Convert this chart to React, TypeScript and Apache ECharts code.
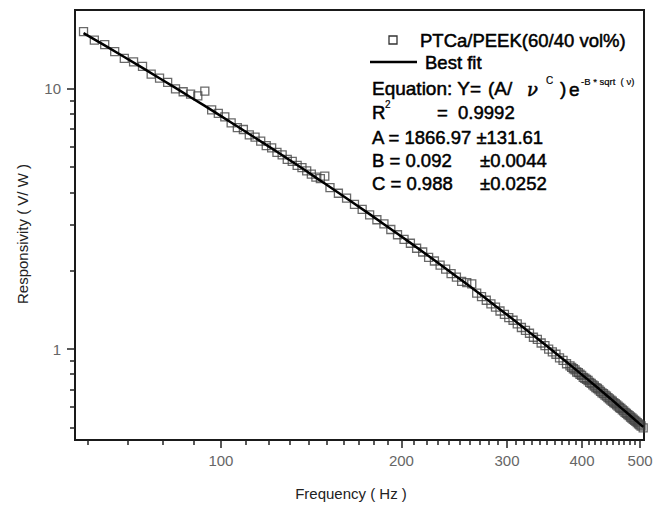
import React, { useEffect, useRef } from "react";
import * as echarts from "echarts";

// Measured data (frequency in Hz, responsivity in V/W)
const FREQ = [
  59, 61.5, 64, 66.5, 69, 71.5, 74, 76.5, 79, 81.5, 84, 86.5, 89, 91.5, 94, 96.5, 99,
  101.5, 104, 106.5, 109, 111.5, 114, 116.5, 119, 121.5, 124, 126.5, 129, 131.5, 134,
  136.5, 139, 141.5, 144, 146.5, 149, 152, 157, 162, 167, 172, 177, 182, 187, 192, 197,
  202, 207, 212, 217, 222, 227, 232, 237, 242, 247, 252, 257, 262, 267, 272, 277, 282,
  287, 292, 297, 302, 307, 312, 317, 322, 327, 332, 337, 342, 347, 352, 357, 362, 367,
  372, 377, 382, 384.5, 387, 389.5, 392, 394.5, 397, 399.5, 402, 404.5, 407, 409.5, 412,
  414.5, 417, 419.5, 422, 424.5, 427, 429.5, 432, 434.5, 437, 439.5, 442, 444.5, 447,
  449.5, 452, 454.5, 457, 459.5, 462, 464.5, 467, 469.5, 472, 474.5, 477, 479.5, 482,
  484.5, 487, 489.5, 492, 494.5, 497, 499.5, 502, 506,
];
const RESP = [
  16.6, 15.4, 14.8, 13.9, 13.1, 12.7, 12.2, 11.4, 11.0, 10.6, 10.0, 9.75, 9.55, 9.4, 9.8, 8.3, 8.05,
  7.8, 7.4, 7.1, 6.98, 6.65, 6.52, 6.3, 6.05, 5.93, 5.7, 5.58, 5.36, 5.26, 5.08,
  4.98, 4.84, 4.7, 4.58, 4.52, 4.62, 4.17, 3.97, 3.8, 3.6, 3.44, 3.28, 3.14, 3.03, 2.88, 2.75,
  2.64, 2.55, 2.44, 2.36, 2.25, 2.18, 2.1, 2.03, 1.95, 1.89, 1.82, 1.8, 1.78, 1.64, 1.59, 1.54, 1.49,
  1.45, 1.4, 1.36, 1.32, 1.29, 1.25, 1.21, 1.18, 1.15, 1.11, 1.09, 1.055, 1.03, 1.0, 0.975, 0.955, 0.925,
  0.905, 0.878, 0.862, 0.85, 0.84, 0.832, 0.816, 0.812, 0.8, 0.792, 0.778, 0.772, 0.764, 0.757, 0.745,
  0.738, 0.728, 0.721, 0.71, 0.705, 0.697, 0.688, 0.678, 0.674, 0.665, 0.659, 0.65, 0.643, 0.636,
  0.63, 0.622, 0.617, 0.61, 0.603, 0.596, 0.591, 0.584, 0.578, 0.571, 0.566, 0.56, 0.555, 0.548,
  0.543, 0.537, 0.532, 0.527, 0.521, 0.516, 0.511, 0.506, 0.498,
];

// Best-fit curve
const FIT_FREQ = [
  59, 64, 69, 74, 79, 84, 89, 94, 99, 104, 109, 114, 119, 124, 129, 134, 139, 144, 149,
  157, 167, 177, 187, 197, 207, 217, 227, 237, 247, 257, 267, 277, 287, 297, 307, 317,
  327, 337, 347, 357, 367, 377, 387, 397, 407, 417, 427, 437, 447, 457, 467, 477, 487,
  497, 506,
];
const FIT_RESP = [
  16.39, 14.69, 13.26, 12.04, 10.99, 10.09, 9.29, 8.6, 7.98, 7.43, 6.93, 6.49, 6.09, 5.73,
  5.4, 5.1, 4.82, 4.56, 4.33, 3.99, 3.62, 3.3, 3.02, 2.776, 2.559, 2.366, 2.194, 2.04,
  1.902, 1.777, 1.663, 1.56, 1.465, 1.379, 1.3, 1.227, 1.159, 1.097, 1.04, 0.987, 0.937,
  0.891, 0.848, 0.808, 0.771, 0.735, 0.703, 0.672, 0.643, 0.615, 0.589, 0.565, 0.542,
  0.52, 0.502,
];

// Axes
const X_RANGE = [57.1, 507.6];
const Y_RANGE = [0.447, 20.1];
const X_MAJOR = [100, 200, 300, 400, 500];
const X_MINOR = [
  60, 70, 80, 90, 110, 120, 130, 140, 150, 160, 170, 180, 190, 210, 220, 230, 240, 250,
  260, 270, 280, 290, 310, 320, 330, 340, 350, 360, 370, 380, 390, 410, 420, 430, 440,
  450, 460, 470, 480, 490,
];
const Y_MAJOR = [1, 10];
const Y_MINOR = [0.5, 0.6, 0.7, 0.8, 0.9, 2, 3, 4, 5, 6, 7, 8, 9];

const SERIES_NAME = "PTCa/PEEK(60/40 vol%)";
const FIT_NAME = "Best fit";
const X_TITLE = "Frequency ( Hz )";
const Y_TITLE = "Responsivity ( V/ W )";

const FONT = "'Liberation Sans', Arial, Helvetica, sans-serif";
const lg = (v: number) => Math.log10(v);

export default function App() {
  const ref = useRef<HTMLDivElement>(null);

  useEffect(() => {
    document.body.style.margin = "0";
    if (!ref.current) return;
    const chart = echarts.init(ref.current, null, { renderer: "svg" });

    const boxText = (text: string, x: number, y: number, size = 18.5, extra: any = {}) => ({
      type: "text",
      x,
      y,
      z: 100,
      style: {
        text,
        fontSize: size,
        fontFamily: FONT,
        fill: "#000",
        stroke: "#000",
        lineWidth: size > 12 ? 0.5 : 0.2,
        verticalAlign: "middle",
        align: "left",
        ...extra,
      },
    });

    const tickStyle = { color: "#222", width: 1.5 };
    const labelStyle = { color: "#666", fontSize: 15, fontFamily: FONT };
    const hiddenLine = { show: false, onZero: false };

    const option: any = {
      animation: false,
      backgroundColor: "#fff",
      grid: {
        left: 75,
        top: 10,
        width: 569,
        height: 430,
        show: true,
        borderColor: "#1a1a1a",
        borderWidth: 2,
        backgroundColor: "transparent",
      },
      xAxis: [
        {
          type: "log",
          logBase: 10,
          min: X_RANGE[0],
          max: X_RANGE[1],
          axisLine: hiddenLine,
          axisTick: { show: false },
          axisLabel: { show: false },
          splitLine: { show: false },
        },
        {
          type: "value",
          min: lg(X_RANGE[0]),
          max: lg(X_RANGE[1]),
          position: "bottom",
          axisLine: hiddenLine,
          axisTick: { show: true, customValues: X_MAJOR.map(lg), length: 8, lineStyle: tickStyle },
          axisLabel: {
            customValues: X_MAJOR.map(lg),
            formatter: (v: number) => String(Math.round(Math.pow(10, v))),
            margin: 13,
            ...labelStyle,
          },
          splitLine: { show: false },
        },
        {
          type: "value",
          min: lg(X_RANGE[0]),
          max: lg(X_RANGE[1]),
          position: "bottom",
          axisLine: hiddenLine,
          axisTick: { show: true, customValues: X_MINOR.map(lg), length: 5, lineStyle: tickStyle },
          axisLabel: { show: false },
          splitLine: { show: false },
        },
      ],
      yAxis: [
        {
          type: "log",
          logBase: 10,
          min: Y_RANGE[0],
          max: Y_RANGE[1],
          axisLine: hiddenLine,
          axisTick: { show: false },
          axisLabel: { show: false },
          splitLine: { show: false },
        },
        {
          type: "value",
          min: lg(Y_RANGE[0]),
          max: lg(Y_RANGE[1]),
          position: "left",
          axisLine: hiddenLine,
          axisTick: { show: true, customValues: Y_MAJOR.map(lg), length: 8, lineStyle: tickStyle },
          axisLabel: {
            customValues: Y_MAJOR.map(lg),
            formatter: (v: number) => String(Math.round(Math.pow(10, v))),
            margin: 14,
            ...labelStyle,
          },
          splitLine: { show: false },
        },
        {
          type: "value",
          min: lg(Y_RANGE[0]),
          max: lg(Y_RANGE[1]),
          position: "left",
          axisLine: hiddenLine,
          axisTick: { show: true, customValues: Y_MINOR.map(lg), length: 5, lineStyle: tickStyle },
          axisLabel: { show: false },
          splitLine: { show: false },
        },
      ],
      series: [
        {
          name: SERIES_NAME,
          type: "scatter",
          xAxisIndex: 0,
          yAxisIndex: 0,
          symbol: "rect",
          symbolSize: 8,
          z: 2,
          itemStyle: { color: "rgba(0,0,0,0)", borderColor: "#444", borderWidth: 1.3 },
          data: FREQ.map((f, i) => [f, RESP[i]]),
        },
        {
          name: FIT_NAME,
          type: "line",
          xAxisIndex: 0,
          yAxisIndex: 0,
          showSymbol: false,
          symbol: "none",
          z: 3,
          lineStyle: { color: "#000", width: 2.5 },
          data: FIT_FREQ.map((f, i) => [f, FIT_RESP[i]]),
        },
      ],
      graphic: [
        // legend
        {
          type: "rect",
          z: 100,
          shape: { x: 389, y: 36, width: 8, height: 8 },
          style: { fill: "none", stroke: "#333", lineWidth: 1.3 },
        },
        boxText(SERIES_NAME, 420, 40),
        {
          type: "line",
          z: 100,
          shape: { x1: 370, y1: 62, x2: 417, y2: 62 },
          style: { stroke: "#000", lineWidth: 2.5 },
        },
        boxText(FIT_NAME, 425, 62),
        // equation
        boxText("Equation: Y=", 372, 88, 19),
        boxText("(A/", 488, 88, 19),
        boxText("\u03bd", 527, 89, 18, { fontFamily: "'DejaVu Serif', serif", fontStyle: "italic" }),
        boxText("C", 546, 80, 10),
        boxText(")", 560, 88, 19),
        boxText("e", 569, 89, 19),
        boxText("-B * sqrt  ( \u03bd)", 581, 81, 9.5),
        // stats
        boxText("R", 372, 112),
        boxText("2", 385, 104, 10),
        boxText("=  0.9992", 437, 112),
        boxText("A = 1866.97 \u00b1131.61", 372, 137),
        boxText("B = 0.092", 372, 160),
        boxText("\u00b10.0044", 480, 160),
        boxText("C = 0.988", 372, 183),
        boxText("\u00b10.0252", 480, 183),
        // axis titles
        {
          type: "text",
          x: 351,
          y: 493,
          style: {
            text: X_TITLE,
            fontSize: 15,
            fontFamily: FONT,
            fill: "#222",
            align: "center",
            verticalAlign: "middle",
          },
        },
        {
          type: "text",
          x: 22,
          y: 234,
          rotation: Math.PI / 2,
          style: {
            text: Y_TITLE,
            fontSize: 15,
            fontFamily: FONT,
            fill: "#222",
            align: "center",
            verticalAlign: "middle",
          },
        },
      ],
    };

    chart.setOption(option);
    return () => chart.dispose();
  }, []);

  return <div ref={ref} style={{ width: 662, height: 508 }} />;
}
